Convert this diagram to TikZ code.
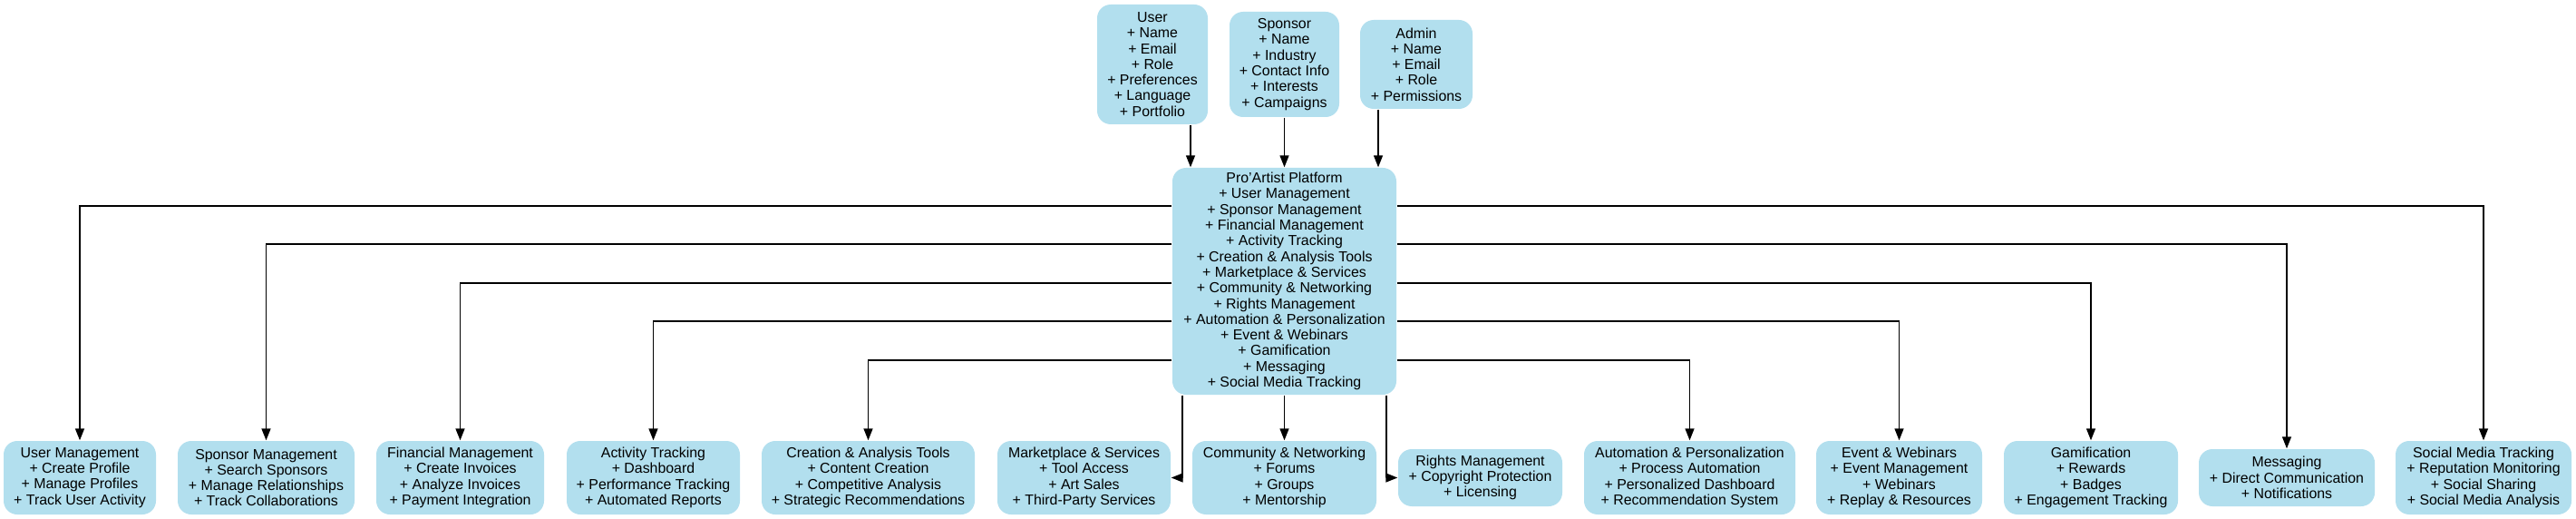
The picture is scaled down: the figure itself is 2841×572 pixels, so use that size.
\documentclass[tikz,border=0pt]{standalone}
\usepackage{fontspec}
\setmainfont{Liberation Sans}
\usetikzlibrary{positioning,arrows.meta}
\definecolor{boxblue}{HTML}{B2DFEE}

\begin{document}
\begin{tikzpicture}[x=1pt,y=-1pt,node distance=6cm,on grid,line width=1.4pt,
					>={Triangle[length=13pt,width=10pt]},
					block/.style={fill=boxblue,rounded corners=15pt,align=center,inner sep=2pt,
					font=\fontsize{15.9}{17.3}\selectfont},
					hv/.style={to path={-| (\tikztotarget)}},
					vh/.style={to path={|- (\tikztotarget)}}]
\useasboundingbox (0,0) rectangle (2841,572);
% top row
\node[block,minimum width=121pt,minimum height=116pt] (s) at (1416.5,71)
					{Sponsor\\+ Name\\+ Industry\\+ Contact Info\\+ Interests\\+ Campaigns};
\node[block,minimum width=122pt,minimum height=132pt] (u) [left=145.5pt of s]
					{User\\+ Name\\+ Email\\+ Role\\+ Preferences\\+ Language\\+ Portfolio};
\node[block,minimum width=124pt,minimum height=98pt] (a) [right=145.5pt of s]
					{Admin\\+ Name\\+ Email\\+ Role\\+ Permissions};
% platform
\node[block,minimum width=247pt,minimum height=250pt] (p) [below=239pt of s]
					{Pro'Artist Platform\\+ User Management\\+ Sponsor Management\\+ Financial Management\\+ Activity Tracking\\+ Creation \& Analysis Tools\\+ Marketplace \& Services\\+ Community \& Networking\\+ Rights Management\\+ Automation \& Personalization\\+ Event \& Webinars\\+ Gamification\\+ Messaging\\+ Social Media Tracking};
% bottom row
\node[block,minimum width=203pt,minimum height=81pt] (cn) [below=216.5pt of p]
					{Community \& Networking\\+ Forums\\+ Groups\\+ Mentorship};
\node[block,minimum width=191pt,minimum height=81pt] (mp) [left=221pt of cn]
					{Marketplace \& Services\\+ Tool Access\\+ Art Sales\\+ Third-Party Services};
\node[block,minimum width=235pt,minimum height=81pt] (ct) [left=238pt of mp]
					{Creation \& Analysis Tools\\+ Content Creation\\+ Competitive Analysis\\+ Strategic Recommendations};
\node[block,minimum width=191pt,minimum height=81pt] (tr) [left=237pt of ct]
					{Activity Tracking\\+ Dashboard\\+ Performance Tracking\\+ Automated Reports};
\node[block,minimum width=185pt,minimum height=81pt] (fm) [left=213pt of tr]
					{Financial Management\\+ Create Invoices\\+ Analyze Invoices\\+ Payment Integration};
\node[block,minimum width=195pt,minimum height=81pt] (sm) [left=214pt of fm]
					{Sponsor Management\\+ Search Sponsors\\+ Manage Relationships\\+ Track Collaborations};
\node[block,minimum width=168pt,minimum height=81pt] (um) [left=205.5pt of sm]
					{User Management\\+ Create Profile\\+ Manage Profiles\\+ Track User Activity};
\node[block,minimum width=181pt,minimum height=63pt] (rm) [right=216pt of cn]
					{Rights Management\\+ Copyright Protection\\+ Licensing};
\node[block,minimum width=233pt,minimum height=81pt] (ap) [right=231pt of rm]
					{Automation \& Personalization\\+ Process Automation\\+ Personalized Dashboard\\+ Recommendation System};
\node[block,minimum width=183pt,minimum height=81pt] (ev) [right=231pt of ap]
					{Event \& Webinars\\+ Event Management\\+ Webinars\\+ Replay \& Resources};
\node[block,minimum width=192pt,minimum height=81pt] (gm) [right=211.5pt of ev]
					{Gamification\\+ Rewards\\+ Badges\\+ Engagement Tracking};
\node[block,minimum width=194pt,minimum height=63pt] (ms) [right=216pt of gm]
					{Messaging\\+ Direct Communication\\+ Notifications};
\node[block,minimum width=194pt,minimum height=81pt] (so) [right=217pt of ms]
					{Social Media Tracking\\+ Reputation Monitoring\\+ Social Sharing\\+ Social Media Analysis};
% edges
\path [->] ([xshift=42pt]u.south) edge ([xshift=-103.5pt]p.north)
					(s) edge (p)
					([xshift=-42pt]a.south) edge ([xshift=103.5pt]p.north)
					([yshift=83pt]p.west) edge[hv] (um.north)
					([yshift=41pt]p.west) edge[hv] (sm.north)
					([yshift=-2pt]p.west) edge[hv] (fm.north)
					([yshift=-44pt]p.west) edge[hv] (tr.north)
					([yshift=-87pt]p.west) edge[hv] (ct.north)
					([yshift=83pt]p.east) edge[hv] (so.north)
					([yshift=41pt]p.east) edge[hv] (ms.north)
					([yshift=-2pt]p.east) edge[hv] (gm.north)
					([yshift=-44pt]p.east) edge[hv] (ev.north)
					([yshift=-87pt]p.east) edge[hv] (ap.north)
					([xshift=-112.5pt]p.south) edge[vh] (mp.east)
					(p) edge (cn)
					([xshift=112.5pt]p.south) edge[vh] (rm.west);
\end{tikzpicture}
\end{document}
